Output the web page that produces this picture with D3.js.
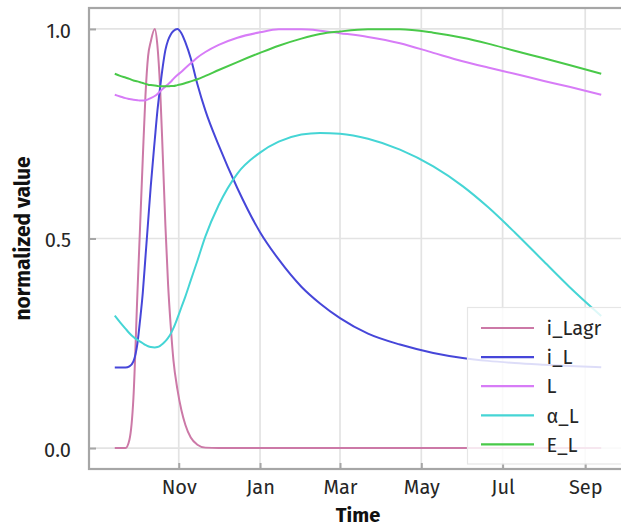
<!DOCTYPE html>
<html>
<head>
<meta charset="utf-8">
<script src="https://cdn.jsdelivr.net/npm/d3@7"></script>
<style>
  body { margin: 0; background: #fff; }
  svg { display: block; font-family: "Fira Sans", "Noto Sans", sans-serif; }
</style>
</head>
<body>
<div id="chart"></div>
<script>
// sample dates
const dates = [
  "2019-09-14", "2019-09-18", "2019-09-22", "2019-09-25", "2019-09-28",
  "2019-10-01", "2019-10-03", "2019-10-05", "2019-10-07", "2019-10-09",
  "2019-10-11", "2019-10-14", "2019-10-16", "2019-10-18", "2019-10-20",
  "2019-10-22", "2019-10-24", "2019-10-26", "2019-10-28", "2019-10-31",
  "2019-11-03", "2019-11-06", "2019-11-10", "2019-11-15", "2019-11-21",
  "2019-12-01", "2019-12-15", "2020-01-01", "2020-01-15", "2020-02-01",
  "2020-02-15", "2020-03-01", "2020-03-22", "2020-04-15", "2020-05-10",
  "2020-06-01", "2020-06-20", "2020-07-10", "2020-08-01", "2020-08-20",
  "2020-09-13"
];

const iLagr = [
  0, 0, 0, 0.02, 0.12, 0.37, 0.53, 0.69, 0.84, 0.935,
  0.97, 1.0, 0.96, 0.86, 0.70, 0.53, 0.39, 0.29, 0.21, 0.14,
  0.09, 0.055, 0.025, 0.008, 0.001, 0, 0, 0, 0, 0,
  0, 0, 0, 0, 0, 0, 0, 0, 0, 0,
  0
];

const iL = [
  0.192, 0.192, 0.192, 0.195, 0.207, 0.25, 0.306, 0.37, 0.455, 0.54,
  0.625, 0.735, 0.805, 0.86, 0.91, 0.95, 0.973, 0.987, 0.995, 1.0,
  0.99, 0.968, 0.93, 0.868, 0.805, 0.722, 0.62, 0.515, 0.45, 0.385,
  0.345, 0.31, 0.273, 0.247, 0.227, 0.215, 0.208, 0.203, 0.199, 0.196,
  0.193
];

const L = [
  0.843, 0.839, 0.835, 0.833, 0.831, 0.83, 0.829, 0.829, 0.83, 0.832,
  0.835, 0.84, 0.845, 0.851, 0.857, 0.863, 0.868, 0.874, 0.881, 0.89,
  0.898, 0.907, 0.918, 0.932, 0.945, 0.962, 0.979, 0.992, 0.999, 0.999,
  0.996, 0.99, 0.981, 0.966, 0.943, 0.923, 0.908, 0.893, 0.876, 0.862,
  0.843
];

const alphaL = [
  0.316, 0.3, 0.285, 0.274, 0.265, 0.258, 0.254, 0.25, 0.246, 0.243,
  0.241, 0.24, 0.241, 0.244, 0.249, 0.255, 0.263, 0.273, 0.286, 0.31,
  0.336, 0.362, 0.4, 0.447, 0.505, 0.58, 0.655, 0.705, 0.731, 0.748,
  0.752, 0.75, 0.738, 0.712, 0.672, 0.625, 0.575, 0.515, 0.445, 0.385,
  0.315
];

const EL = [
  0.893, 0.888, 0.884, 0.881, 0.877, 0.875, 0.873, 0.871, 0.869, 0.867,
  0.866, 0.865, 0.864, 0.863, 0.863, 0.863, 0.863, 0.864, 0.864, 0.866,
  0.868, 0.871, 0.875, 0.88, 0.888, 0.902, 0.921, 0.943, 0.96, 0.977,
  0.988, 0.994, 0.999, 0.999, 0.991, 0.979, 0.965, 0.948, 0.93, 0.914,
  0.893
];

const seriesNames = ["i_Lagr", "i_L", "L", "α_L", "E_L"];
const seriesColors = ["#cc79a7", "#4646d9", "#d77cf7", "#45d5d5", "#49c949"];

const xTickDates = ["2019-11-01", "2020-01-01", "2020-03-01", "2020-05-01", "2020-07-01", "2020-09-01"];
const yTicks = [0, 0.5, 1.0];

const parseDate = d3.timeParse("%Y-%m-%d");

class LineChart {
  constructor(_config) {
    this.config = {
      parentElement: _config.parentElement,
      containerWidth: _config.containerWidth || 621,
      containerHeight: _config.containerHeight || 528,
      margin: _config.margin || { top: 8, right: -6, bottom: 59, left: 89 },
    };
    this.initVis();
  }

  initVis() {
    let vis = this;

    vis.width = vis.config.containerWidth - vis.config.margin.left - vis.config.margin.right;
    vis.height = vis.config.containerHeight - vis.config.margin.top - vis.config.margin.bottom;

    vis.svg = d3.select(vis.config.parentElement)
      .append("svg")
      .attr("width", vis.config.containerWidth)
      .attr("height", vis.config.containerHeight);

    vis.chart = vis.svg.append("g")
      .attr("transform", `translate(${vis.config.margin.left},${vis.config.margin.top})`);

    vis.data = seriesNames.map((name, i) => ({
      name: name,
      color: seriesColors[i],
      values: [iLagr, iL, L, alphaL, EL][i].map((v, j) => ({ date: parseDate(dates[j]), value: v }))
    }));

    // a little padding around the data, like the original plot
    const ext = d3.extent(dates, d => parseDate(d));
    const span = ext[1] - ext[0];
    vis.xScale = d3.scaleTime()
      .domain([new Date(+ext[0] - span * 0.053), new Date(+ext[1] + span * 0.053)])
      .range([0, vis.width]);

    vis.yScale = d3.scaleLinear()
      .domain([-0.05, 1.05])
      .range([vis.height, 0]);

    vis.renderVis();
  }

  renderVis() {
    let vis = this;
    const tickDates = xTickDates.map(parseDate);

    // grid
    vis.chart.append("g")
      .selectAll("line.vgrid")
      .data(tickDates)
      .join("line")
      .attr("class", "vgrid")
      .attr("x1", d => vis.xScale(d))
      .attr("x2", d => vis.xScale(d))
      .attr("y1", 0)
      .attr("y2", vis.height)
      .attr("stroke", "#e3e3e3")
      .attr("stroke-width", 1.7);

    vis.chart.append("g")
      .selectAll("line.hgrid")
      .data(yTicks)
      .join("line")
      .attr("class", "hgrid")
      .attr("x1", 0)
      .attr("x2", vis.width)
      .attr("y1", d => vis.yScale(d))
      .attr("y2", d => vis.yScale(d))
      .attr("stroke", "#e3e3e3")
      .attr("stroke-width", 1.7);

    // axes (inward ticks)
    const xAxis = d3.axisBottom(vis.xScale)
      .tickValues(tickDates)
      .tickFormat(d3.timeFormat("%b"))
      .tickSizeInner(-6)
      .tickSizeOuter(0)
      .tickPadding(11);

    const yAxis = d3.axisLeft(vis.yScale)
      .tickValues(yTicks)
      .tickFormat(d3.format(".1f"))
      .tickSizeInner(-7)
      .tickSizeOuter(0)
      .tickPadding(18);

    const xg = vis.chart.append("g")
      .attr("transform", `translate(0,${vis.height})`)
      .call(xAxis);
    const yg = vis.chart.append("g").call(yAxis);

    [xg, yg].forEach(g => {
      g.select(".domain").remove();
      g.selectAll(".tick line").attr("stroke", "#a6a6a6").attr("stroke-width", 2);
      g.selectAll(".tick text")
        .attr("fill", "#262626")
        .style("font-size", "20px")
        .style("font-family", "'Fira Sans', 'Noto Sans', sans-serif");
    });
    yg.selectAll(".tick text").attr("dy", "0.42em");
    xg.selectAll(".tick text").attr("dy", "0.71em");

    // lines
    const line = d3.line()
      .x(d => vis.xScale(d.date))
      .y(d => vis.yScale(d.value))
      .curve(d3.curveMonotoneX);

    vis.chart.append("g")
      .selectAll("path.series")
      .data(vis.data)
      .join("path")
      .attr("class", "series")
      .attr("fill", "none")
      .attr("stroke", d => d.color)
      .attr("stroke-width", 2)
      .attr("d", d => line(d.values));

    // frame
    vis.chart.append("rect")
      .attr("x", 0)
      .attr("y", 0)
      .attr("width", vis.width)
      .attr("height", vis.height)
      .attr("fill", "none")
      .attr("stroke", "#a6a6a6")
      .attr("stroke-width", 2.2);

    // axis titles
    vis.svg.append("text")
      .attr("x", vis.config.margin.left + vis.width / 2)
      .attr("y", 522)
      .attr("text-anchor", "middle")
      .style("font-size", "20px")
      .style("font-weight", "bold")
      .attr("fill", "#111")
      .text("Time");

    vis.svg.append("text")
      .attr("transform", `translate(29.5,${vis.config.margin.top + vis.height / 2}) rotate(-90)`)
      .attr("text-anchor", "middle")
      .style("font-size", "21px")
      .style("font-weight", "bold")
      .attr("fill", "#111")
      .text("normalized value");

    // legend
    vis.legend = vis.svg.append("g")
      .attr("class", "legend")
      .attr("transform", "translate(467.5,307.5)");

    vis.legend.append("rect")
      .attr("width", 170)
      .attr("height", 156.5)
      .attr("fill", "#fff")
      .attr("fill-opacity", 0.82)
      .attr("stroke", "#e6e6e6")
      .attr("stroke-width", 1.2);

    vis.legendItems = vis.legend.selectAll(".legend-item")
      .data(vis.data)
      .join("g")
      .attr("class", "legend-item")
      .attr("transform", (d, i) => `translate(0,${20.5 + i * 29.1})`);

    vis.legendItems.append("line")
      .attr("x1", 13.5)
      .attr("x2", 66.5)
      .attr("stroke", d => d.color)
      .attr("stroke-width", 2.2);

    vis.legendItems.append("text")
      .attr("x", 79)
      .attr("dy", "0.36em")
      .style("font-size", "20px")
      .attr("fill", "#262626")
      .text(d => d.name);
  }
}

new LineChart({ parentElement: "#chart" });
</script>
</body>
</html>
